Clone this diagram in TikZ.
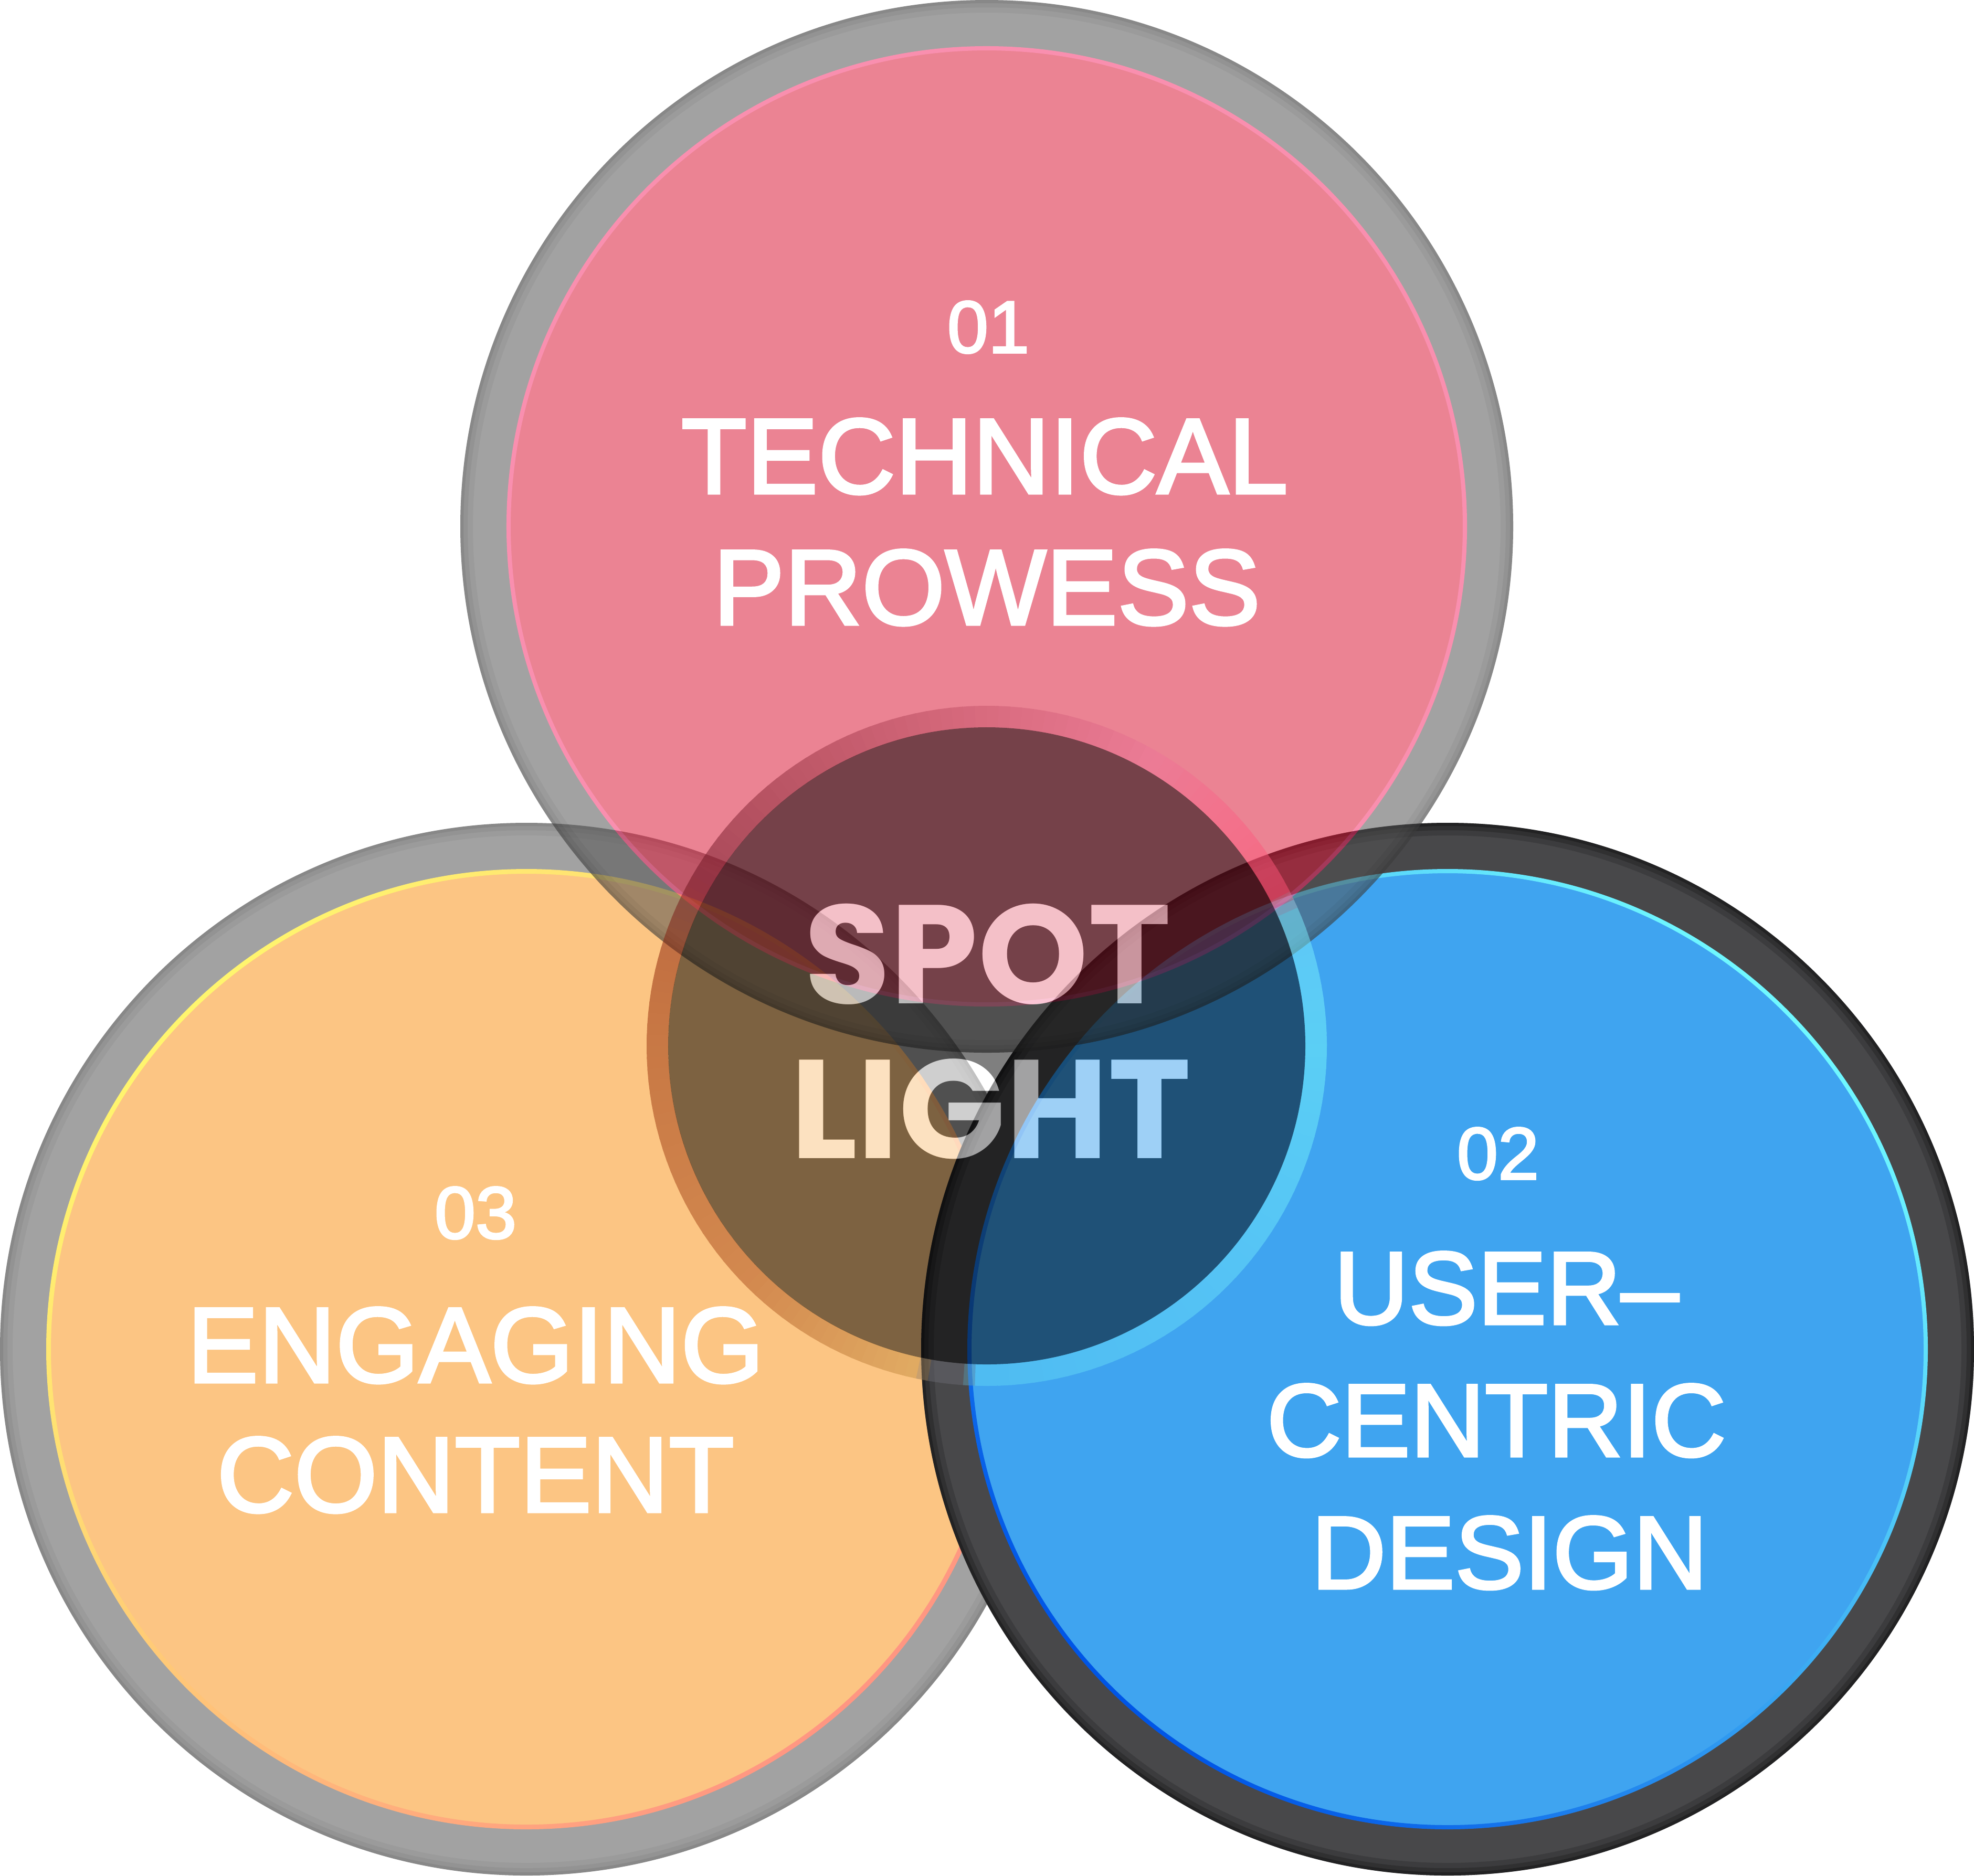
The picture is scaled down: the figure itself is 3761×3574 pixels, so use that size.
\documentclass[tikz,border=0pt]{standalone}
\usepackage{fontspec}
\setmainfont{Liberation Sans}
\newfontfamily\labfont{Liberation Sans}[FakeBold=2.5]
\newfontfamily\spotfont{Poppins}
\usetikzlibrary{calc}
\definecolor{ringgray}{RGB}{82,82,82}
\definecolor{orangefill}{RGB}{251,148,24}
\definecolor{pinkfill}{RGB}{219,23,54}
\definecolor{pinkline}{RGB}{245,45,105}
\definecolor{darkring}{RGB}{72,72,74}
\definecolor{bluefill}{RGB}{63,164,240}
\definecolor{lyel}{RGB}{255,245,110}
\definecolor{lsal}{RGB}{255,150,130}
\definecolor{rcyan}{RGB}{112,248,255}
\definecolor{rblue}{RGB}{0,85,230}
\definecolor{dodgegray}{gray}{0.5}
% conic keypoints of the centre ring (visual angle)
\definecolor{k000}{RGB}{119,250,250}
\definecolor{k024}{RGB}{125,235,255}
\definecolor{k027}{RGB}{255,80,116}
\definecolor{k045}{RGB}{250,100,135}
\definecolor{k060}{RGB}{236,117,152}
\definecolor{k090}{RGB}{200,85,108}
\definecolor{k120}{RGB}{152,49,66}
\definecolor{k150}{RGB}{105,18,32}
\definecolor{k165}{RGB}{139,30,2}
\definecolor{k180}{RGB}{150,45,8}
\definecolor{k225}{RGB}{171,78,28}
\definecolor{k258}{RGB}{199,146,68}
\definecolor{k260}{RGB}{104,104,112}
\definecolor{k266}{RGB}{104,104,112}
\definecolor{k268}{RGB}{95,212,244}
\definecolor{k315}{RGB}{107,226,250}
\tikzset{
  lbl/.style={text=white, inner sep=0pt, anchor=base},
  numf/.style={font=\labfont\fontsize{40}{42}\selectfont},
  bigf/.style={font=\labfont\fontsize{58}{60}\selectfont},
  midf/.style={font=\labfont\fontsize{56}{58}\selectfont},
  spotf/.style={font=\spotfont\bfseries\fontsize{76}{78}\selectfont},
}
\newcommand{\edgeshade}[2]{% centre, strength factor
  \foreach \rr/\ww/\oo in {991/6.83/0.04, 996/3.98/0.05, 1000/1.71/0.07}{
    \pgfmathsetmacro\oq{min(1,\oo*#2)}
    \draw[black, opacity=\oq, line width=\ww pt] (#1) circle[radius=\rr];
  }
}
\begin{document}
\begin{tikzpicture}[x=0.01cm,y=-0.01cm]
\fill[white] (0,0) rectangle (3761,3574);
\path[use as bounding box] (0,0) rectangle (3761,3574);
\coordinate (L) at (1003,2571);
\coordinate (R) at (2758,2571);
\coordinate (T) at (1880,1003);
\coordinate (C) at (1880,1993);

% ---- left circle (engaging content)
\begin{scope}[transparency group, opacity=0.533]
  \fill[ringgray, even odd rule] (L) circle[radius=1003] (L) circle[radius=911];
  \fill[orangefill] (L) circle[radius=911];
\end{scope}
\edgeshade{L}{1}
\shade[even odd rule, top color=lyel, bottom color=lsal, shading angle=45]
  (L) circle[radius=915] (L) circle[radius=906];

% ---- right circle (user-centric design)
\fill[darkring, even odd rule] (R) circle[radius=1003] (R) circle[radius=911];
\fill[bluefill] (R) circle[radius=911];
\edgeshade{R}{4}
\shade[even odd rule, top color=rcyan, bottom color=rblue, shading angle=-45]
  (R) circle[radius=915] (R) circle[radius=907];

% ---- top circle (technical prowess)
\begin{scope}[transparency group, opacity=0.533]
  \fill[ringgray, even odd rule] (T) circle[radius=1003] (T) circle[radius=911];
  \fill[pinkfill] (T) circle[radius=911];
  \draw[pinkline, line width=2.3pt] (T) circle[radius=911];
\end{scope}
\edgeshade{T}{1}

% ---- centre ring with conic colouring
\begin{scope}[shift={(1880,1993)}, transparency group, opacity=0.5]
\foreach \pa/\pb/\ca/\cb in {0/24/k000/k024, 24/27/k024/k027, 27/45/k027/k045,
    45/60/k045/k060, 60/90/k060/k090, 90/120/k090/k120, 120/150/k120/k150,
    150/165/k150/k165, 165/180/k165/k180, 180/225/k180/k225, 225/258/k225/k258,
    258/260/k258/k260, 260/266/k260/k266, 266/268/k266/k268, 268/315/k268/k315,
    315/360/k315/k000}{
  \pgfmathtruncatemacro\nn{max(1,round((\pb-\pa)/2))}
  \foreach \i in {1,...,\nn}{
    \pgfmathsetmacro\fa{\pa+(\i-1)*(\pb-\pa)/\nn}
    \pgfmathsetmacro\fb{\pa+\i*(\pb-\pa)/\nn+0.4}
    \pgfmathtruncatemacro\pc{round((\i-0.5)*100/\nn)}
    \colorlet{segc}{\cb!\pc!\ca}
    \fill[segc] (-\fa:648) arc[start angle=-\fa, end angle=-\fb, radius=648]
      -- (-\fb:607) arc[start angle=-\fb, end angle=-\fa, radius=607] -- cycle;
  }
}
\end{scope}

% ---- dark centre disc
\fill[black, opacity=0.5] (C) circle[radius=607];

% ---- SPOT LIGHT (restored under the dark disc, then half white)
\begin{scope}[blend mode=color dodge]
  \node[lbl, spotf, text=dodgegray] (spotD) at (1882,1912) {SPOT};
  \node[lbl, spotf, text=dodgegray] (lightD) at (1888,2207) {LIGHT};
\end{scope}
\node[lbl, spotf, text opacity=0.5] (spot) at (1882,1912) {SPOT};
\node[lbl, spotf, text opacity=0.5] (light) at (1888,2207) {LIGHT};

% ---- labels
\node[lbl, numf] (n01) at (1883,672) {01};
\node[lbl, bigf] (tech) at (1876,940) {TECHNICAL};
\node[lbl, bigf] (prow) at (1880,1190) {PROWESS};

\node[lbl, numf] (n02) at (2854,2247) {02};
\node[lbl, midf] (user) at (2870,2523) {USER–};
\node[lbl, midf] (cent) at (2851,2775) {CENTRIC};
\node[lbl, midf] (desi) at (2876,3027) {DESIGN};

\node[lbl, numf] (n03) at (906,2360) {03};
\node[lbl, bigf] (enga) at (906,2634) {ENGAGING};
\node[lbl, bigf] (cont) at (906,2881) {CONTENT};
\end{tikzpicture}
\end{document}
